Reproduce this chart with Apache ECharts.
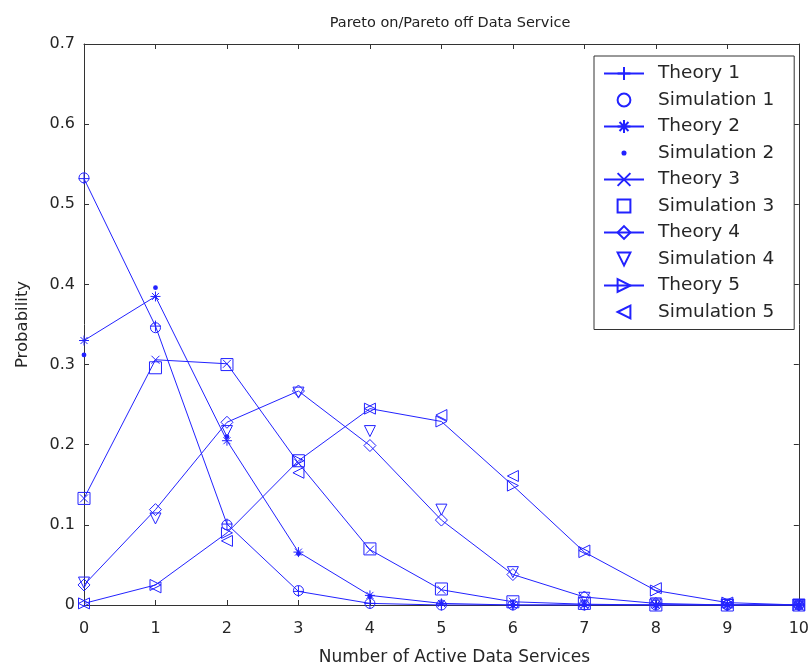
<!DOCTYPE html>
<html>
<head>
<meta charset="utf-8">
<script src="https://cdn.jsdelivr.net/npm/echarts@6/dist/echarts.min.js"></script>
<style>
  html, body { margin: 0; padding: 0; background: #fff; }
  #chart { width: 812px; height: 671px; }
</style>
</head>
<body>
<div id="chart"></div>
<script>
// Number of active data services (x) and probability of each count
const activeServices = [0, 1, 2, 3, 4, 5, 6, 7, 8, 9, 10];

const theory1 = [0.532, 0.348, 0.101, 0.017, 0.002, 0, 0, 0, 0, 0, 0];
const simulation1 = [0.533, 0.346, 0.100, 0.018, 0.002, 0, 0, 0, 0, 0, 0];
const theory2 = [0.330, 0.385, 0.205, 0.066, 0.012, 0.002, 0, 0, 0, 0, 0];
const simulation2 = [0.312, 0.396, 0.210, 0.064, 0.011, 0.002, 0, 0, 0, 0, 0];
const theory3 = [0.133, 0.306, 0.301, 0.177, 0.069, 0.019, 0.004, 0.001, 0, 0, 0];
const simulation3 = [0.133, 0.296, 0.300, 0.180, 0.070, 0.020, 0.004, 0.002, 0, 0, 0];
const theory4 = [0.025, 0.119, 0.228, 0.267, 0.199, 0.106, 0.038, 0.010, 0.002, 0, 0];
const simulation4 = [0.028, 0.108, 0.217, 0.265, 0.217, 0.119, 0.041, 0.009, 0.002, 0, 0];
const theory5 = [0.002, 0.025, 0.090, 0.180, 0.245, 0.229, 0.149, 0.066, 0.018, 0.003, 0];
const simulation5 = [0.002, 0.022, 0.080, 0.165, 0.245, 0.237, 0.161, 0.068, 0.021, 0.003, 0];

const xTicks = { min: 0, max: 10, interval: 1 };
const yTicks = { min: 0, max: 0.7, interval: 0.1 };

const BLUE = '#2222ff';
const FONT = 'DejaVu Sans, Verdana, sans-serif';

// Stroke-only marker shapes
const PLUS = 'path://M0,5L10,5M5,0L5,10';
const CROSS = 'path://M0,0L10,10M10,0L0,10';
const ASTERISK = 'path://M0,5L10,5M5,0L5,10M1.5,1.5L8.5,8.5M8.5,1.5L1.5,8.5';
// Small point inside a padded 10x10 box, so it stays small at any symbol size
const POINT = 'path://M0,0M10,10M5,3A2,2,0,1,1,5,7A2,2,0,1,1,5,3Z';

function pairs(values) {
  return activeServices.map((x, i) => [x, values[i]]);
}

function markerStyle(filled) {
  return filled
    ? { color: BLUE, borderColor: BLUE, borderWidth: 0 }
    : { color: 'rgba(255,255,255,0)', borderColor: BLUE, borderWidth: 1 };
}

function theory(name, values, symbol, size, rotate) {
  return {
    name, type: 'line', data: pairs(values),
    symbol, symbolSize: size, symbolRotate: rotate || 0,
    showAllSymbol: true,
    lineStyle: { color: BLUE, width: 1 },
    itemStyle: markerStyle(false),
    emphasis: { disabled: true },
    animation: false, z: 3
  };
}

// Simulated points: markers only, no connecting line
function simulation(name, values, symbol, size, rotate, filled) {
  return {
    name, type: 'line', data: pairs(values),
    symbol, symbolSize: size, symbolRotate: rotate || 0,
    showAllSymbol: true,
    lineStyle: { color: BLUE, width: 0, opacity: 0 },
    itemStyle: markerStyle(filled),
    emphasis: { disabled: true },
    animation: false, z: 4
  };
}

const series = [
  theory('Theory 1', theory1, PLUS, 11),
  simulation('Simulation 1', simulation1, 'circle', 10),
  theory('Theory 2', theory2, ASTERISK, 10),
  simulation('Simulation 2', simulation2, POINT, 12, 0, true),
  theory('Theory 3', theory3, CROSS, 8),
  simulation('Simulation 3', simulation3, 'rect', 12),
  theory('Theory 4', theory4, 'diamond', 12),
  simulation('Simulation 4', simulation4, 'triangle', 11, 180),
  theory('Theory 5', theory5, 'triangle', 11, -90),
  simulation('Simulation 5', simulation5, 'triangle', 11, 90)
];

const axisLine = { show: true, onZero: false, lineStyle: { color: '#333', width: 1 } };
const axisTick = { show: true, inside: true, length: 5, lineStyle: { color: '#333' } };
const labelStyle = { color: '#262626', fontSize: 16, fontFamily: FONT };

const option = {
  backgroundColor: '#fff',
  animation: false,
  title: {
    text: 'Pareto on/Pareto off Data Service',
    left: 445, top: 11, textAlign: 'center',
    textStyle: { fontSize: 14.5, fontWeight: 'normal', color: '#222', fontFamily: FONT }
  },
  grid: { left: 84, right: 6, top: 44, bottom: 62, containLabel: false },
  xAxis: [
    {
      type: 'value', position: 'bottom', ...xTicks,
      axisLine, axisTick, splitLine: { show: false },
      axisLabel: { ...labelStyle, margin: 16 },
      name: 'Number of Active Data Services', nameLocation: 'middle', nameGap: 44,
      nameTextStyle: { ...labelStyle, fontSize: 17, padding: [0, 0, 0, 26] }
    },
    {
      type: 'value', position: 'top', ...xTicks,
      axisLine, axisTick, splitLine: { show: false }, axisLabel: { show: false }
    }
  ],
  yAxis: [
    {
      type: 'value', position: 'left', ...yTicks,
      axisLine, axisTick, splitLine: { show: false },
      axisLabel: { ...labelStyle, margin: 9, formatter: v => (v === 0 ? '0' : v.toFixed(1)) },
      name: 'Probability', nameLocation: 'middle', nameGap: 53,
      nameTextStyle: { ...labelStyle, fontSize: 16.5 }
    },
    {
      type: 'value', position: 'right', ...yTicks,
      axisLine, axisTick, splitLine: { show: false }, axisLabel: { show: false }
    }
  ],
  legend: {
    orient: 'vertical',
    left: 594, top: 56,
    padding: [8, 20, 8, 9],
    itemWidth: 40, itemHeight: 16, itemGap: 7.5,
    backgroundColor: '#fff',
    borderColor: '#333', borderWidth: 1,
    selectedMode: false,
    textStyle: { ...labelStyle, fontSize: 18.5, padding: [0, 0, 0, 9] },
    data: series.map(s => s.name)
  },
  series
};

const chart = echarts.init(document.getElementById('chart'), null, { renderer: 'canvas' });
chart.setOption(option);
</script>
</body>
</html>
